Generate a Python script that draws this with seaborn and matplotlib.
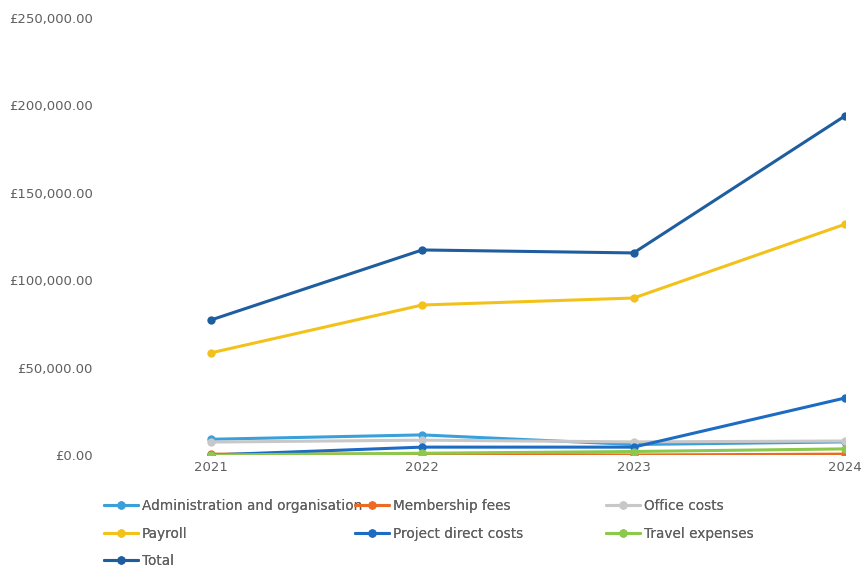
import numpy as np
import pandas as pd
import matplotlib
matplotlib.use("Agg")
import matplotlib.pyplot as plt
from matplotlib.ticker import FuncFormatter
import seaborn as sns

years = [2021, 2022, 2023, 2024]
admin = [9000, 11500, 6000, 7500]
membership = [500, 500, 0, 500]
office = [7400, 8500, 7500, 8000]
payroll = [58400, 85800, 89800, 132000]
project = [0, 4500, 4500, 32600]
travel = [0, 1000, 2000, 3500]
total = [77200, 117300, 115600, 194000]

series = {
    "Administration and organisation": admin,
    "Membership fees": membership,
    "Office costs": office,
    "Payroll": payroll,
    "Project direct costs": project,
    "Travel expenses": travel,
    "Total": total,
}
palette = {
    "Administration and organisation": "#3AA0DA",
    "Membership fees": "#ED6A22",
    "Office costs": "#C8C8C8",
    "Payroll": "#F2C21B",
    "Project direct costs": "#1C6CC4",
    "Travel expenses": "#8CC84B",
    "Total": "#1F5E9E",
}

rows = []
for name, vals in series.items():
    for y, v in zip(years, vals):
        rows.append({"year": y, "cost": v, "category": name})
df = pd.DataFrame(rows)

sns.set_theme(style="white")
plt.rcParams["font.family"] = ["DejaVu Sans"]
text_col = "#5f5f5f"

fig = plt.figure(figsize=(8.63, 5.69), dpi=100)
ax = fig.add_axes([105 / 863, 114 / 569, 740 / 863, 437 / 569])

sns.lineplot(data=df, x="year", y="cost", hue="category", palette=palette,
             hue_order=list(series.keys()), marker="o", markersize=6,
             markeredgewidth=0, linewidth=2.2, ax=ax, legend=False)

ax.set_xlim(2020.5, 2024)
ax.set_ylim(0, 250000)
ax.set_xticks(years)
ax.set_xticklabels([str(y) for y in years])
ax.set_yticks(np.arange(0, 250001, 50000))
ax.yaxis.set_major_formatter(FuncFormatter(lambda v, p: f"£{v:,.2f}"))
ax.tick_params(axis="both", length=0, labelsize=9.5, labelcolor=text_col)
ax.tick_params(axis="y", pad=9)
ax.tick_params(axis="x", pad=4)
ax.set_xlabel("")
ax.set_ylabel("")
sns.despine(ax=ax, left=True, bottom=True)

# legend laid out row by row, one column legend per x position
columns = [
    (["Administration and organisation", "Payroll", "Total"], 104),
    (["Membership fees", "Project direct costs"], 355),
    (["Office costs", "Travel expenses"], 606),
]
for names, x0 in columns:
    handles = [plt.Line2D([], [], color=palette[n], marker="o", markersize=6,
                          markeredgewidth=0, linewidth=2.2) for n in names]
    leg = fig.legend(handles, names, loc="upper left",
                     bbox_to_anchor=(x0 / 863, 1 - 499 / 569), ncol=1,
                     frameon=False, fontsize=9.8, handlelength=2.5,
                     handletextpad=0.3, labelspacing=1.0,
                     labelcolor=text_col, borderaxespad=0, borderpad=0)
    fig.add_artist(leg)

fig.savefig("out.png", dpi=100)
